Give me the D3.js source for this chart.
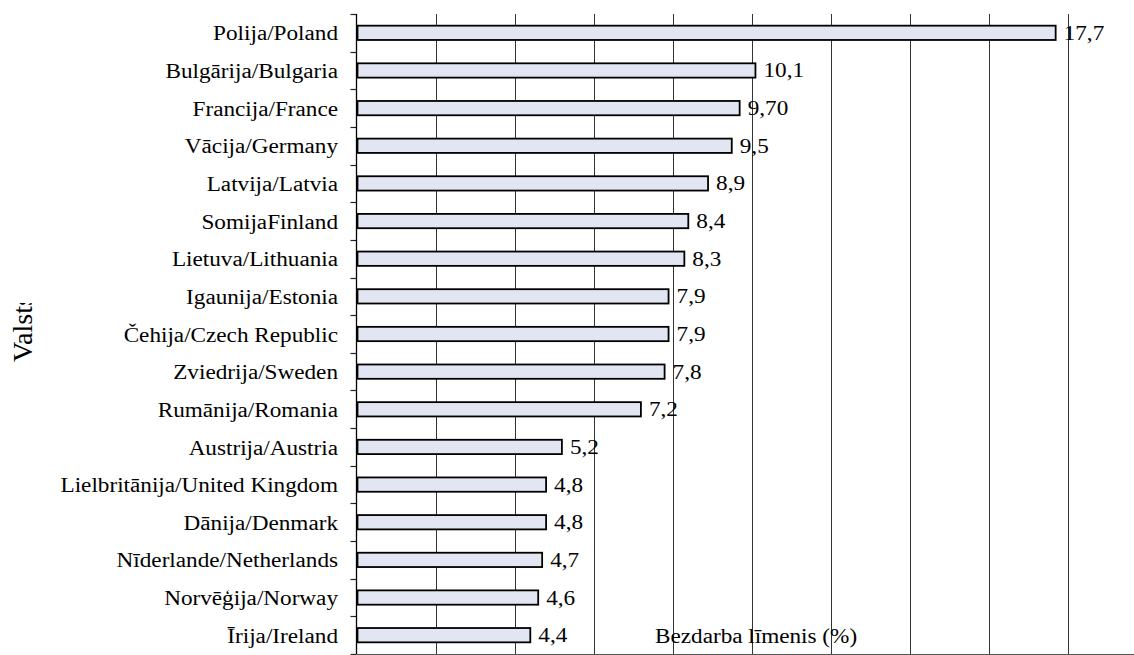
<!DOCTYPE html>
<html>
<head>
<meta charset="utf-8">
<script src="https://cdn.jsdelivr.net/npm/d3@7"></script>
<style>
  html, body { margin: 0; padding: 0; background: #fff; }
  svg { display: block; }
</style>
</head>
<body>
<svg id="chart" width="1134" height="655"></svg>
<script>
// Unemployment rate by country (%)
const countries = [
  "Polija/Poland", "Bulgārija/Bulgaria", "Francija/France", "Vācija/Germany",
  "Latvija/Latvia", "SomijaFinland", "Lietuva/Lithuania", "Igaunija/Estonia",
  "Čehija/Czech Republic", "Zviedrija/Sweden", "Rumānija/Romania", "Austrija/Austria",
  "Lielbritānija/United Kingdom", "Dānija/Denmark", "Nīderlande/Netherlands",
  "Norvēģija/Norway", "Īrija/Ireland"
];
const rates = [17.7, 10.1, 9.7, 9.5, 8.9, 8.4, 8.3, 7.9, 7.9, 7.8, 7.2, 5.2, 4.8, 4.8, 4.7, 4.6, 4.4];
const rateLabels = ["17,7", "10,1", "9,70", "9,5", "8,9", "8,4", "8,3", "7,9", "7,9", "7,8", "7,2", "5,2", "4,8", "4,8", "4,7", "4,6", "4,4"];
const gridValues = [2, 4, 6, 8, 10, 12, 14, 16, 18];
const xTitle = "Bezdarba līmenis (%)";
const yTitle = "Valsts";

const FONT = "'Liberation Serif', serif";
const svg = d3.select("#chart");
const plotLeft = 356.5, plotTop = 14, plotBottom = 654;
const stretch = 1.16; // horizontal stretch of the serif lettering

const x = d3.scaleLinear().domain([0, 20]).range([plotLeft, plotLeft + 790]);
const y = d3.scaleBand().domain(countries).range([plotTop, plotBottom]).padding(0);
const barH = y.bandwidth() * 0.38;

// vertical gridlines
svg.append("g").selectAll("line").data(gridValues).join("line")
  .attr("x1", d => Math.round(x(d)) + 0.5).attr("x2", d => Math.round(x(d)) + 0.5)
  .attr("y1", plotTop).attr("y2", plotBottom)
  .attr("stroke", "#333").attr("stroke-width", 1);

// bottom axis line
svg.append("line")
  .attr("x1", plotLeft).attr("x2", 1134).attr("y1", plotBottom + 0.5).attr("y2", plotBottom + 0.5)
  .attr("stroke", "#555").attr("stroke-width", 1.2);

// category axis: line and boundary ticks
const boundaries = countries.map(c => y(c)).concat([plotBottom]);
svg.append("g").selectAll("line").data(boundaries).join("line")
  .attr("x1", plotLeft - 6).attr("x2", plotLeft)
  .attr("y1", d => Math.round(d) + 0.5).attr("y2", d => Math.round(d) + 0.5)
  .attr("stroke", "#222").attr("stroke-width", 1.2);
svg.append("line")
  .attr("x1", plotLeft).attr("x2", plotLeft).attr("y1", plotTop).attr("y2", plotBottom)
  .attr("stroke", "#000").attr("stroke-width", 1.3);

// bars
svg.append("g").selectAll("rect").data(countries).join("rect")
  .attr("x", x(0) + 1)
  .attr("y", (c) => y(c) + y.bandwidth() / 2 - barH / 2)
  .attr("width", (c, i) => x(rates[i]) - x(0) - 1)
  .attr("height", barH)
  .attr("fill", "#e1e6f2")
  .attr("stroke", "#000")
  .attr("stroke-width", 1.8);

// category labels
svg.append("g").selectAll("text").data(countries).join("text")
  .attr("transform", c => `translate(338,${y(c) + y.bandwidth() / 2 + 7.6}) scale(${stretch},1)`)
  .attr("text-anchor", "end")
  .attr("font-family", FONT)
  .attr("font-size", 20)
  .attr("fill", "#000")
  .text(c => c);

// value labels
svg.append("g").selectAll("text").data(countries).join("text")
  .attr("transform", (c, i) => `translate(${x(rates[i]) + 8},${y(c) + y.bandwidth() / 2 + 7}) scale(${stretch},1)`)
  .attr("font-family", FONT)
  .attr("font-size", 20)
  .attr("fill", "#000")
  .text((c, i) => rateLabels[i]);

// axis titles
svg.append("text")
  .attr("transform", `translate(655,643) scale(${stretch},1)`)
  .attr("font-family", FONT)
  .attr("font-size", 20)
  .attr("fill", "#000")
  .text(xTitle);

svg.append("clipPath").attr("id", "ytitle-clip")
  .append("rect").attr("x", 0).attr("y", 303).attr("width", 60).attr("height", 100);
svg.append("g").attr("clip-path", "url(#ytitle-clip)")
  .append("text")
  .attr("transform", "translate(32,362) rotate(-90)")
  .attr("font-family", FONT)
  .attr("font-size", 28)
  .attr("fill", "#000")
  .text(yTitle);
</script>
</body>
</html>
